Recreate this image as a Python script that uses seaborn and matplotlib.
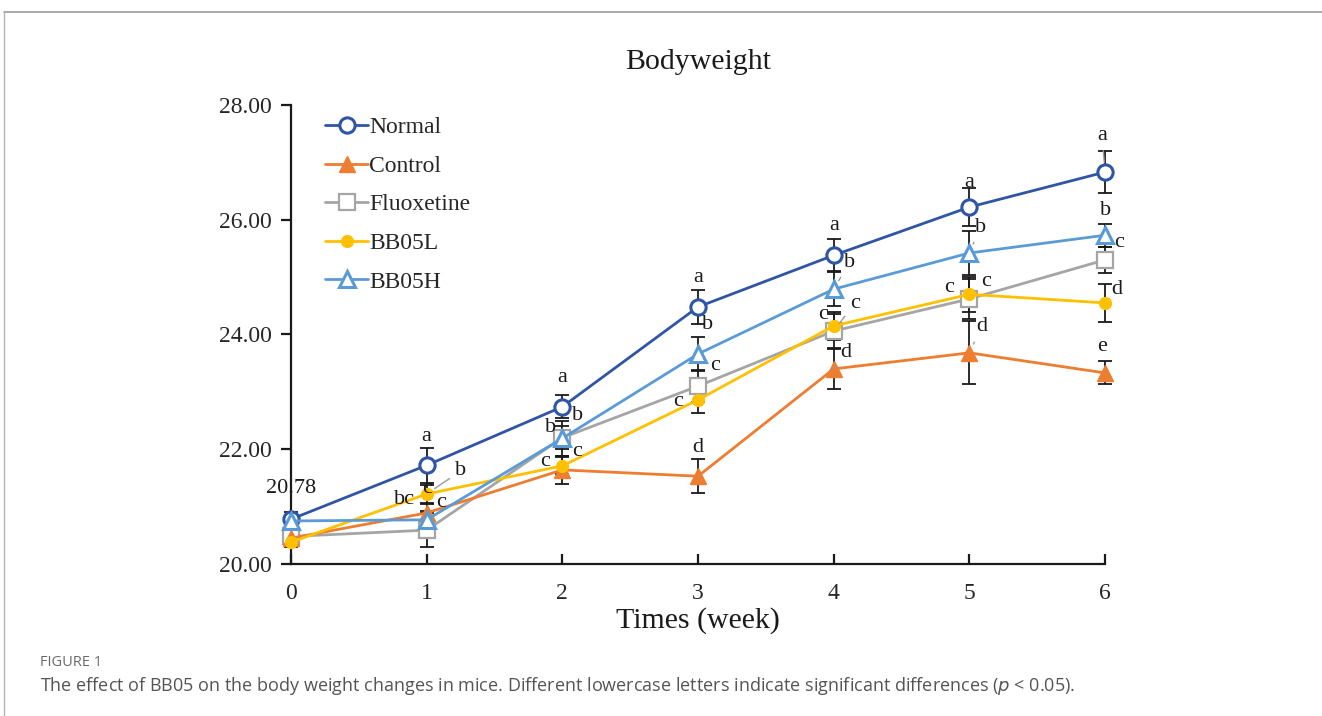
import numpy as np
import pandas as pd
import matplotlib
matplotlib.use("Agg")
import matplotlib.pyplot as plt
import seaborn as sns
from matplotlib.lines import Line2D

# ---- data -------------------------------------------------------------
weeks = [0, 1, 2, 3, 4, 5, 6]
groups = ["Normal", "Control", "Fluoxetine", "BB05L", "BB05H"]

normal = [20.78, 21.72, 22.74, 24.48, 25.38, 26.22, 26.83]
control = [20.45, 20.89, 21.64, 21.53, 23.40, 23.68, 23.33]
fluoxetine = [20.48, 20.59, 22.20, 23.10, 24.06, 24.62, 25.30]
bb05l = [20.38, 21.22, 21.71, 22.86, 24.15, 24.70, 24.55]
bb05h = [20.75, 20.77, 22.19, 23.66, 24.79, 25.42, 25.73]

normal_err = [0.12, 0.30, 0.20, 0.30, 0.28, 0.33, 0.37]
control_err = [0.10, 0.15, 0.25, 0.30, 0.35, 0.55, 0.20]
fluoxetine_err = [0.12, 0.30, 0.20, 0.28, 0.30, 0.35, 0.22]
bb05l_err = [0.08, 0.15, 0.15, 0.22, 0.25, 0.30, 0.33]
bb05h_err = [0.10, 0.15, 0.30, 0.30, 0.30, 0.38, 0.20]

normal_sig = ["", "a", "a", "a", "a", "a", "a"]
control_sig = ["", "bc", "c", "d", "d", "d", "e"]
fluoxetine_sig = ["", "c", "b", "c", "c", "c", "c"]
bb05l_sig = ["", "b", "c", "c", "c", "c", "d"]
bb05h_sig = ["", "c", "b", "b", "b", "b", "b"]

y_ticks = [20.0, 22.0, 24.0, 26.0, 28.0]

# ---- styling ----------------------------------------------------------
sns.set_theme(style="white")
plt.rcParams["font.family"] = ["Liberation Serif", "DejaVu Serif"]

colors = {
    "Normal": "#2F55A4",
    "Control": "#ED7D31",
    "Fluoxetine": "#A5A5A5",
    "BB05L": "#FFC000",
    "BB05H": "#5B9BD5",
}
marker_style = {
    "Normal": dict(marker="o", markersize=11, markerfacecolor="white", markeredgewidth=2.2),
    "Control": dict(marker="^", markersize=11, markerfacecolor=colors["Control"], markeredgewidth=1),
    "Fluoxetine": dict(marker="s", markersize=12, markerfacecolor="white", markeredgewidth=1.6),
    "BB05L": dict(marker="o", markersize=8.5, markerfacecolor=colors["BB05L"], markeredgewidth=1),
    "BB05H": dict(marker="^", markersize=11, markerfacecolor="white", markeredgewidth=2.2),
}

values = {"Normal": normal, "Control": control, "Fluoxetine": fluoxetine,
          "BB05L": bb05l, "BB05H": bb05h}
errors = {"Normal": normal_err, "Control": control_err, "Fluoxetine": fluoxetine_err,
          "BB05L": bb05l_err, "BB05H": bb05h_err}
letters = {"Normal": normal_sig, "Control": control_sig, "Fluoxetine": fluoxetine_sig,
           "BB05L": bb05l_sig, "BB05H": bb05h_sig}

# letter placement: pixel offsets (dx, dy up) from each point, and leader flag
letter_offsets = {
    "Normal": [(0, 0), (0, 29), (0, 29), (0, 29), (0, 30), (0, 25), (-3, 37)],
    "Control": [(0, 0), (-22, 13), (15, 18), (0, 29), (12, 16), (12, 26), (-3, 26)],
    "Fluoxetine": [(0, 0), (0, 42), (-12, 10), (17, 21), (21, 28), (17, 17), (14, 17)],
    "BB05L": [(0, 0), (34, 23), (-17, 4), (-20, -2), (-11, 11), (-20, 7), (12, 13)],
    "BB05H": [(0, 0), (14, 17), (15, 23), (10, 29), (16, 27), (11, 26), (0, 25)],
}
leaders = {("BB05L", 1), ("BB05H", 4), ("Fluoxetine", 4), ("Control", 4),
           ("BB05H", 5), ("Control", 5), ("Normal", 6)}

df = pd.DataFrame({
    "week": weeks * len(groups),
    "weight": normal + control + fluoxetine + bb05l + bb05h,
    "group": [g for g in groups for _ in weeks],
})

fig = plt.figure(figsize=(13.22, 7.16), dpi=100)
ax = fig.add_axes([0.2201, 0.2123, 0.8359 - 0.2201, 0.8534 - 0.2123])

draw_order = ["Fluoxetine", "Control", "BB05L", "Normal", "BB05H"]
for z, g in enumerate(draw_order):
    sub = df[df["group"] == g]
    eb = ax.errorbar(sub["week"], sub["weight"], yerr=errors[g], fmt="none",
                     ecolor="#1a1a1a", elinewidth=1.3, capsize=5, capthick=1.3, zorder=2)
    for art in eb.lines[1] + eb.lines[2]:
        art.set_clip_on(False)
    sns.lineplot(data=sub, x="week", y="weight", ax=ax, color=colors[g],
                 linewidth=2.0, markeredgecolor=colors[g], zorder=3 + z,
                 legend=False, clip_on=False, **marker_style[g])

# significance letters
for g in groups:
    for i, w in enumerate(weeks):
        lab = letters[g][i]
        if not lab:
            continue
        dx, dy = letter_offsets[g][i]
        kw = {}
        if (g, i) in leaders:
            kw["arrowprops"] = dict(arrowstyle="-", color="#9a9a9a", lw=1.0,
                                    shrinkA=2, shrinkB=7)
        ax.annotate(lab, xy=(w, values[g][i]), xytext=(dx, dy),
                    textcoords="offset pixels", ha="center", va="center",
                    fontsize=16, color="#1a1a1a", zorder=20, **kw)

# starting weight label
ax.annotate(f"{normal[0]:.2f}", xy=(weeks[0], normal[0]), xytext=(0, 31),
            textcoords="offset pixels", ha="center", va="center",
            fontsize=16, color="#1a1a1a", zorder=20)

# axes
ax.set_xlim(0, 6)
ax.set_ylim(20, 28)
ax.set_xticks(weeks)
ax.set_xticklabels([str(w) for w in weeks])
ax.set_yticks(y_ticks)
ax.set_yticklabels([f"{t:.2f}" for t in y_ticks])
for s in ["top", "right"]:
    ax.spines[s].set_visible(False)
for s in ["left", "bottom"]:
    ax.spines[s].set_color("#1a1a1a")
    ax.spines[s].set_linewidth(1.6)
ax.tick_params(axis="y", direction="out", length=7, width=1.6, color="#1a1a1a",
               labelsize=17, pad=7, left=True)
ax.tick_params(axis="x", direction="in", length=7, width=1.6, color="#1a1a1a",
               labelsize=17, pad=14, bottom=True)
ax.set_xlabel("Times (week)", fontsize=21.5, labelpad=2, color="#1a1a1a")
ax.set_ylabel("")
ax.set_title("Bodyweight", fontsize=21.5, pad=26, color="#1a1a1a")
ax.set_facecolor("white")

# legend
handles = [Line2D([0], [0], color=colors[g], linewidth=2.0, markeredgecolor=colors[g],
                  **marker_style[g]) for g in groups]
leg = ax.legend(handles, groups, loc="upper left", bbox_to_anchor=(0.022, 1.01),
                frameon=False, fontsize=17, handlelength=1.8, handletextpad=0.05,
                labelspacing=0.72, borderaxespad=0.3)

# page frame and caption
fig.add_artist(Line2D([4 / 1322, 1.0], [1 - 12 / 716, 1 - 12 / 716],
                      color="#9a9a9a", linewidth=1.2, transform=fig.transFigure))
fig.add_artist(Line2D([4 / 1322, 4 / 1322], [0, 1 - 12 / 716],
                      color="#b5b5b5", linewidth=1.0, transform=fig.transFigure))
fig.text(40 / 1322, 1 - 662 / 716, "FIGURE 1", family=["Open Sans", "DejaVu Sans"],
         fontsize=10.5, color="#6a6a6a", va="center", ha="left")
fig.text(40 / 1322, 1 - 686 / 716,
         "The effect of BB05 on the body weight changes in mice. Different lowercase "
         "letters indicate significant differences ($\\it{p}$ < 0.05).",
         family=["Open Sans", "DejaVu Sans"], fontsize=13, color="#555555",
         va="center", ha="left")

fig.savefig("out.png", dpi=100, facecolor="white")
